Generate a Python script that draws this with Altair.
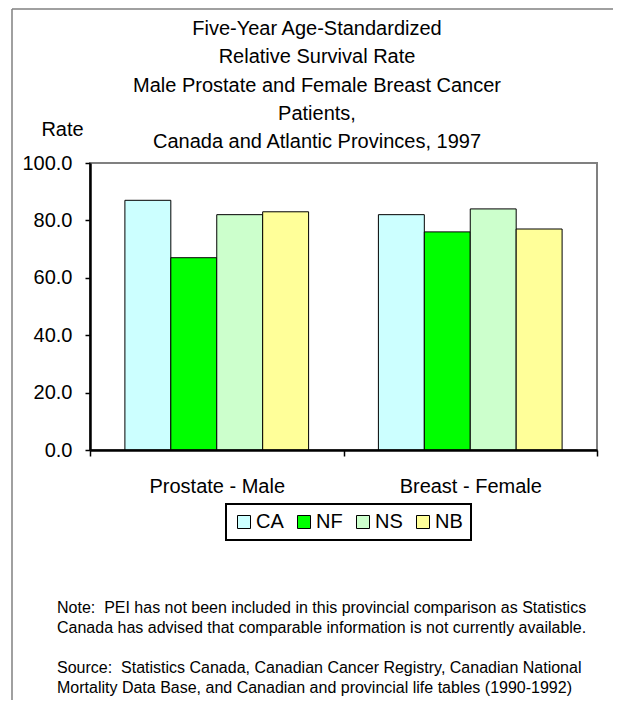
import altair as alt
import pandas as pd

# ---- data ----
categories = ["Prostate - Male", "Breast - Female"]
regions = ["CA", "NF", "NS", "NB"]
prostate_male = [87.0, 67.0, 82.0, 83.0]
breast_female = [82.0, 76.0, 84.0, 77.0]
region_colors = ["#CCFFFF", "#00FF00", "#CCFFCC", "#FFFF99"]
y_tick_values = [0, 20, 40, 60, 80, 100]

title_lines = [
    "Five-Year Age-Standardized",
    "Relative Survival Rate",
    "Male Prostate and Female Breast Cancer",
    "Patients,",
    "Canada and Atlantic Provinces, 1997",
]
note_lines = [
    "Note:\u00a0 PEI has not been included in this provincial comparison as Statistics",
    "Canada has advised that comparable information is not currently available.",
]
source_lines = [
    "Source:\u00a0 Statistics Canada, Canadian Cancer Registry, Canadian National",
    "Mortality Data Base, and Canadian and provincial life tables (1990-1992)",
]

rows = []
for reg, p, b in zip(regions, prostate_male, breast_female):
    rows.append({"cancer": categories[0], "region": reg, "rate": p})
    rows.append({"cancer": categories[1], "region": reg, "rate": b})
df = pd.DataFrame(rows)

FONT = "Liberation Sans"
W, H = 507, 287
one = pd.DataFrame({"k": [0]})

bars = alt.Chart(df).mark_bar(stroke="#000000", strokeWidth=1, opacity=1).encode(
    x=alt.X(
        "cancer:N",
        sort=categories,
        scale=alt.Scale(paddingInner=0, paddingOuter=0),
        axis=alt.Axis(
            title=None, labelAngle=0, tickBand="extent", zindex=1,
            labelFont=FONT, labelFontSize=20, labelColor="#000000", labelPadding=20,
            domainColor="#000000", domainWidth=2.5,
            tickColor="#000000", tickWidth=1.5, tickSize=6,
        ),
    ),
    xOffset=alt.XOffset(
        "region:N", sort=regions,
        scale=alt.Scale(paddingInner=0, paddingOuter=0.76),
    ),
    y=alt.Y(
        "rate:Q",
        scale=alt.Scale(domain=[0, 100], nice=False),
        axis=alt.Axis(
            values=y_tick_values, format=".1f", grid=False, zindex=1,
            title="Rate", titleAngle=0, titleX=-28, titleY=-34,
            titleAlign="center", titleBaseline="middle",
            titleFont=FONT, titleFontSize=20, titleFontWeight="normal", titleColor="#000000",
            labelFont=FONT, labelFontSize=20, labelColor="#000000", labelPadding=13,
            domainColor="#000000", domainWidth=2.5,
            tickColor="#000000", tickWidth=1.5, tickSize=5,
        ),
    ),
    color=alt.Color(
        "region:N", sort=regions,
        scale=alt.Scale(domain=regions, range=region_colors),
        legend=alt.Legend(
            title=None, orient="none", legendX=136, legendY=341,
            direction="horizontal", strokeColor="#000000", padding=8,
            symbolType="square", symbolSize=169, symbolStrokeColor="#000000",
            symbolStrokeWidth=1, symbolOpacity=1,
            labelFont=FONT, labelFontSize=20, labelColor="#000000",
            labelOffset=2, columnPadding=10, gridAlign="each",
        ),
    ),
)

title_text = alt.Chart(one).mark_text(
    text=title_lines, align="center", baseline="top", font=FONT, fontSize=20,
    lineHeight=28.25, color="#000000",
).encode(x=alt.value(227), y=alt.value(-144))

note_text = alt.Chart(one).mark_text(
    text=note_lines, align="left", baseline="top", font=FONT, fontSize=16,
    lineHeight=20, color="#000000",
).encode(x=alt.value(-33), y=alt.value(437))

source_text = alt.Chart(one).mark_text(
    text=source_lines, align="left", baseline="top", font=FONT, fontSize=16,
    lineHeight=20, color="#000000",
).encode(x=alt.value(-33), y=alt.value(497))

frame_left = alt.Chart(one).mark_rule(color="#808080", strokeWidth=1.5).encode(
    x=alt.value(-78), y=alt.value(-154), y2=alt.value(H + 260)
)
frame_top = alt.Chart(one).mark_rule(color="#808080", strokeWidth=1.5).encode(
    x=alt.value(-78), x2=alt.value(W + 40), y=alt.value(-154)
)

chart = alt.layer(frame_left, frame_top, bars, title_text, note_text, source_text).properties(
    width=W, height=H,
    padding={"left": 82, "top": 155, "right": 16, "bottom": 250},
    autosize=alt.AutoSizeParams(type="none"),
).configure_view(
    stroke="#808080", strokeWidth=2
).configure_legend(
    strokeWidth=2
)

chart.save("out.html", embed_options={"renderer": "svg", "actions": False})
